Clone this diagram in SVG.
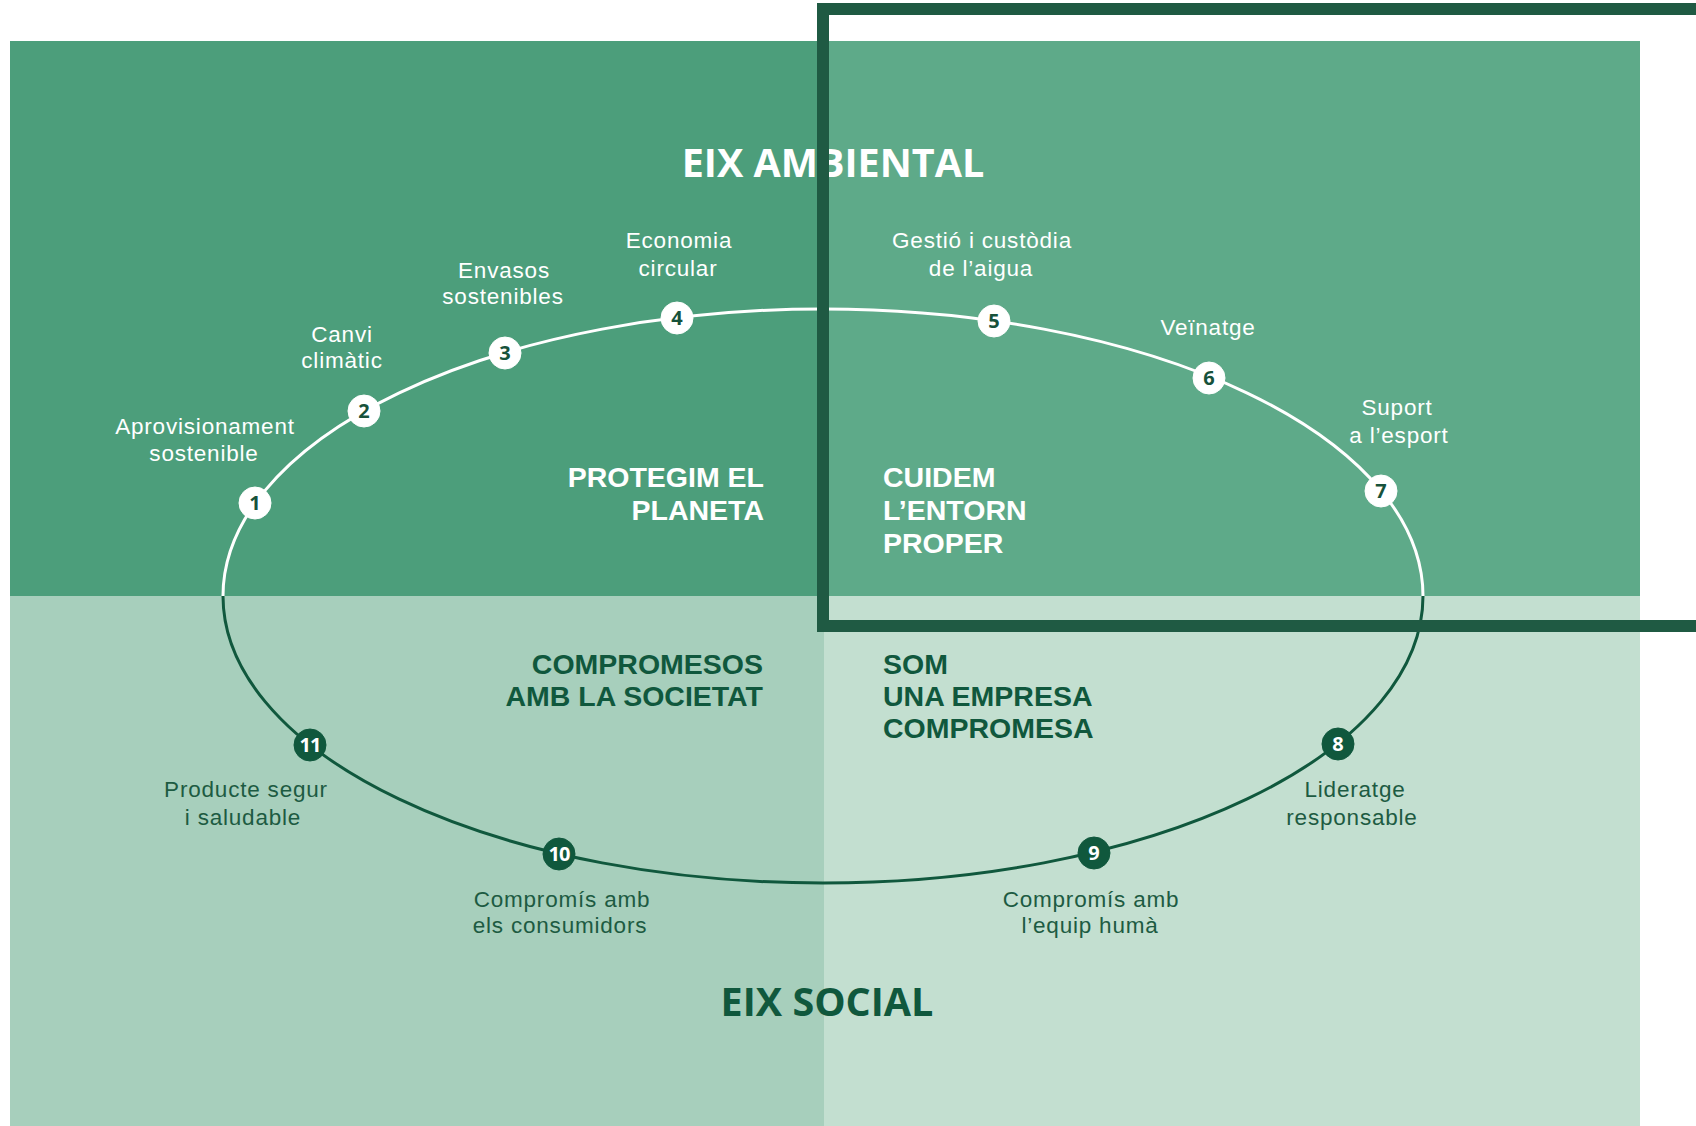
<svg xmlns="http://www.w3.org/2000/svg" width="1696" height="1126" viewBox="0 0 1696 1126">
<style>
.lbl{font-family:"Liberation Sans",Arial,sans-serif;font-size:22.5px;letter-spacing:0.8px;text-anchor:middle}
.w{fill:#ffffff}
.d{fill:#1d5b42}
.ttl{font-family:"Liberation Sans",Arial,sans-serif;font-weight:700;font-size:28.5px}
.axis{font-family:"Open Sans","Liberation Sans",sans-serif;font-weight:700;font-size:39.5px;text-anchor:middle}
.num{font-family:"Open Sans","Liberation Sans",sans-serif;font-weight:700;font-size:20px;text-anchor:middle}
.nw circle{fill:#ffffff;stroke:#ffffff;stroke-width:1}
.nw .num{fill:#17523b}
.nd circle{fill:#10583d;stroke:#10583d;stroke-width:1}
.nd .num{fill:#ffffff}
</style>
<rect width="1696" height="1126" fill="#ffffff"/>
<g id="background">
<rect x="10" y="41" width="814" height="555" fill="#4c9e7b"/>
<rect x="824" y="41" width="816" height="555" fill="#5eaa89"/>
<rect x="10" y="596" width="814" height="530" fill="#a7cfbc"/>
<rect x="824" y="596" width="816" height="530" fill="#c3dfd0"/>
</g>
<g id="connectors" fill="none" stroke-width="3">
<path d="M223 596 A600 287 0 0 1 1423 596" stroke="#ffffff"/>
<path d="M1423 596 A600 287 0 0 1 223 596" stroke="#10583d"/>
</g>
<g id="titles">
<text class="axis w" x="833" y="177">EIX AMBIENTAL</text>
<text class="axis" x="827" y="1016" fill="#10583d">EIX SOCIAL</text>
<text class="ttl w" text-anchor="end"><tspan x="764" y="487">PROTEGIM EL</tspan><tspan x="764" y="520">PLANETA</tspan></text>
<text class="ttl w"><tspan x="883" y="487">CUIDEM</tspan><tspan x="883" y="520">L’ENTORN</tspan><tspan x="883" y="553">PROPER</tspan></text>
<text class="ttl" fill="#10583d" text-anchor="end"><tspan x="763" y="674">COMPROMESOS</tspan><tspan x="763" y="706">AMB LA SOCIETAT</tspan></text>
<text class="ttl" fill="#10583d"><tspan x="883" y="674">SOM</tspan><tspan x="883" y="706">UNA EMPRESA</tspan><tspan x="883" y="738">COMPROMESA</tspan></text>
</g>
<g id="node1" class="nw"><circle cx="255" cy="503" r="16"/><text class="num" x="255" y="510">1</text><text class="lbl w"><tspan x="205" y="434">Aprovisionament</tspan><tspan x="204" y="461">sostenible</tspan></text></g>
<g id="node2" class="nw"><circle cx="364" cy="411" r="16"/><text class="num" x="364" y="418">2</text><text class="lbl w"><tspan x="342" y="342">Canvi</tspan><tspan x="342" y="368">climàtic</tspan></text></g>
<g id="node3" class="nw"><circle cx="505" cy="353" r="16"/><text class="num" x="505" y="360">3</text><text class="lbl w"><tspan x="504" y="278">Envasos</tspan><tspan x="503" y="304">sostenibles</tspan></text></g>
<g id="node4" class="nw"><circle cx="677" cy="318" r="16"/><text class="num" x="677" y="325">4</text><text class="lbl w"><tspan x="679" y="248">Economia</tspan><tspan x="678" y="276">circular</tspan></text></g>
<g id="node5" class="nw"><circle cx="994" cy="321" r="16"/><text class="num" x="994" y="328">5</text><text class="lbl w"><tspan x="982" y="248">Gestió i custòdia</tspan><tspan x="981" y="276">de l’aigua</tspan></text></g>
<g id="node6" class="nw"><circle cx="1209" cy="378" r="16"/><text class="num" x="1209" y="385">6</text><text class="lbl w" x="1208" y="335">Veïnatge</text></g>
<g id="node7" class="nw"><circle cx="1381" cy="491" r="16"/><text class="num" x="1381" y="498">7</text><text class="lbl w"><tspan x="1397" y="415">Suport</tspan><tspan x="1399" y="443">a l’esport</tspan></text></g>
<g id="node8" class="nd"><circle cx="1338" cy="744" r="16"/><text class="num" x="1338" y="751">8</text><text class="lbl d"><tspan x="1355" y="797">Lideratge</tspan><tspan x="1352" y="825">responsable</tspan></text></g>
<g id="node9" class="nd"><circle cx="1094" cy="853" r="16"/><text class="num" x="1094" y="860">9</text><text class="lbl d"><tspan x="1091" y="907">Compromís amb</tspan><tspan x="1090" y="933">l’equip humà</tspan></text></g>
<g id="node10" class="nd"><circle cx="559" cy="854" r="16"/><text class="num" x="559" y="861" letter-spacing="-1">10</text><text class="lbl d"><tspan x="562" y="907">Compromís amb</tspan><tspan x="560" y="933">els consumidors</tspan></text></g>
<g id="node11" class="nd"><circle cx="310" cy="745" r="16"/><text class="num" x="310" y="752" letter-spacing="-1">11</text><text class="lbl d"><tspan x="246" y="797">Producte segur</tspan><tspan x="243" y="825">i saludable</tspan></text></g>
<g id="frame"><path d="M1710 9 H823 V626 H1710" fill="none" stroke="#1f5a43" stroke-width="12"/></g>
</svg>
